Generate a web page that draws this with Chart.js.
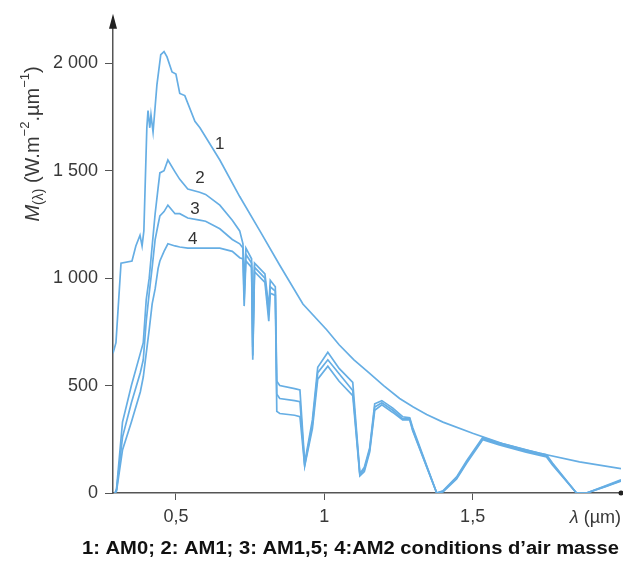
<!DOCTYPE html>
<html>
<head>
<meta charset="utf-8">
<script src="https://cdn.jsdelivr.net/npm/chart.js@4/dist/chart.umd.min.js"></script>
<style>
  body { margin: 0; background: #fff; }
  #wrap { width: 623px; height: 565px; position: relative; }
</style>
</head>
<body>
<div id="wrap"><canvas id="spectre"></canvas></div>
<script>
// Spectre solaire AM0 (hors atmosphère)
const am0Wavelengths = [0.288, 0.298, 0.315, 0.352, 0.365, 0.379, 0.386, 0.392, 0.402, 0.406,
    0.412, 0.416, 0.423, 0.436, 0.449, 0.46, 0.47, 0.487, 0.5, 0.513,
    0.53, 0.564, 0.581, 0.648, 0.715, 0.783, 0.85, 0.928, 1.008, 1.05,
    1.1, 1.15, 1.2, 1.254, 1.3, 1.345, 1.4, 1.5, 1.6, 1.726, 1.86, 2.0];
const am0Values = [650, 700, 1070, 1080, 1150, 1200, 1150, 1220, 1700, 1780,
    1700, 1760, 1680, 1900, 2040, 2055, 2030, 1960, 1950, 1860,
    1850, 1730, 1700, 1550, 1380, 1220, 1060, 880, 760, 690,
    620, 560, 500, 440, 400, 365, 330, 278, 230, 185, 145, 113];

// Spectres au sol (AM1, AM1,5, AM2) sur une grille commune
const groundWavelengths = [0.295, 0.30, 0.32, 0.35, 0.38, 0.39, 0.40, 0.41, 0.42, 0.43,
    0.44, 0.446, 0.46, 0.473, 0.497, 0.513, 0.54, 0.58, 0.60, 0.648,
    0.69, 0.715, 0.726, 0.73, 0.736, 0.755, 0.759, 0.765, 0.80, 0.813,
    0.818, 0.835, 0.84, 0.85, 0.90, 0.918, 0.934, 0.96, 0.978, 1.012,
    1.05, 1.096, 1.12, 1.135, 1.153, 1.17, 1.194, 1.231, 1.264, 1.288,
    1.298, 1.379, 1.40, 1.446, 1.48, 1.534, 1.59, 1.68, 1.749, 1.769,
    1.85, 1.884, 1.95, 2.0];
const am1Values = [0, 20, 330, 500, 650, 700, 900, 1000, 1150, 1300,
    1420, 1490, 1500, 1550, 1495, 1460, 1415, 1400, 1390, 1340,
    1270, 1220, 1160, 950, 1140, 1090, 680, 1070, 1020, 860,
    990, 960, 520, 500, 486, 480, 140, 340, 585, 655,
    580, 515, 90, 120, 210, 415, 430, 395, 355, 350,
    305, 0, 10, 75, 150, 258, 233, 200, 178, 140,
    0, 0, 35, 62];
const am15Values = [0, 15, 260, 420, 560, 620, 800, 930, 1050, 1180,
    1250, 1290, 1310, 1340, 1300, 1300, 1280, 1270, 1265, 1230,
    1180, 1160, 1140, 900, 1110, 1070, 640, 1050, 1000, 830,
    960, 940, 460, 440, 430, 425, 130, 320, 560, 620,
    555, 477, 85, 110, 200, 400, 420, 385, 345, 345,
    295, 0, 8, 70, 145, 252, 228, 195, 172, 135,
    0, 0, 32, 58];
const am2Values = [0, 10, 200, 330, 470, 540, 650, 760, 880, 950,
    1046, 1080, 1125, 1160, 1150, 1145, 1140, 1140, 1140, 1140,
    1125, 1095, 1090, 870, 1080, 1050, 620, 1030, 980, 800,
    930, 920, 380, 370, 362, 355, 125, 300, 530, 590,
    520, 453, 80, 100, 190, 385, 410, 375, 340, 340,
    290, 0, 5, 65, 140, 248, 224, 190, 168, 130,
    0, 0, 30, 55];

// Graduations
const yTicks = [0, 500, 1000, 1500, 2000];
const xTicks = [0.5, 1, 1.5];

// Numéros des courbes (en coordonnées des données)
const curveNames = ['1', '2', '3', '4'];
const curveNameX = [0.648, 0.581, 0.564, 0.557];
const curveNameY = [1625, 1463, 1319, 1181];

const caption = '1: AM0; 2: AM1; 3: AM1,5; 4:AM2 conditions d\u2019air masse';

const LINE = 'rgb(102, 174, 228)';
const INK = '#383838';
const FONT = '"Liberation Sans", Arial, sans-serif';

function toPoints(xs, ys) {
    return xs.map((x, i) => ({ x: x, y: ys[i] }));
}

function formatThousands(v) {
    return String(v).replace(/\B(?=(\d{3})+(?!\d))/g, ' ');
}

const decorPlugin = {
    id: 'decor',
    afterDraw(chart) {
        const { ctx, chartArea: a, scales } = chart;
        const xs = scales.x, ys = scales.y;
        ctx.save();

        // Flèche de l'axe vertical
        ctx.fillStyle = '#222';
        ctx.beginPath();
        ctx.moveTo(a.left, a.top - 4);
        ctx.lineTo(a.left - 4, a.top + 11);
        ctx.lineTo(a.left + 4, a.top + 11);
        ctx.closePath();
        ctx.fill();

        // Bout de l'axe horizontal
        ctx.beginPath();
        ctx.arc(a.right, a.bottom, 2.5, 0, Math.PI * 2);
        ctx.fill();

        // Numéros des courbes
        ctx.fillStyle = '#333';
        ctx.font = '17px ' + FONT;
        ctx.textAlign = 'center';
        ctx.textBaseline = 'middle';
        curveNames.forEach((n, i) => {
            ctx.fillText(n, xs.getPixelForValue(curveNameX[i]), ys.getPixelForValue(curveNameY[i]));
        });

        // Titre de l'axe x : λ (µm)
        ctx.fillStyle = INK;
        ctx.textAlign = 'left';
        const unit = ' (\u00b5m)';
        ctx.font = '18px ' + FONT;
        const wUnit = ctx.measureText(unit).width;
        ctx.font = 'italic 18px ' + FONT;
        const wLam = ctx.measureText('\u03bb').width;
        const xStart = a.right - wUnit - wLam;
        ctx.fillText('\u03bb', xStart, a.bottom + 25);
        ctx.font = '18px ' + FONT;
        ctx.fillText(unit, xStart + wLam, a.bottom + 25);

        // Titre de l'axe y : M(λ) (W.m-2.µm-1)
        const parts = [
            { t: 'M', f: 'italic 20px ' + FONT, dy: 0 },
            { t: '(\u03bb)', f: '14px ' + FONT, dy: 6 },
            { t: ' (W.m', f: '20px ' + FONT, dy: 0 },
            { t: '\u22122', f: '13px ' + FONT, dy: -8 },
            { t: '.\u00b5m', f: '20px ' + FONT, dy: 0 },
            { t: '\u22121', f: '13px ' + FONT, dy: -8 },
            { t: ')', f: '20px ' + FONT, dy: 0 }
        ];
        let total = 0;
        parts.forEach(p => { ctx.font = p.f; p.w = ctx.measureText(p.t).width; total += p.w; });
        ctx.translate(33, 144);
        ctx.rotate(-Math.PI / 2);
        let cx = -total / 2;
        parts.forEach(p => {
            ctx.font = p.f;
            ctx.fillText(p.t, cx, p.dy);
            cx += p.w;
        });
        ctx.setTransform(1, 0, 0, 1, 0, 0);

        // Légende sous le graphique
        ctx.fillStyle = '#111';
        ctx.font = 'bold 18px ' + FONT;
        const wCap = ctx.measureText(caption).width;
        const target = 537;
        ctx.translate(350.5, 549);
        ctx.scale(target / wCap, 1);
        ctx.textAlign = 'center';
        ctx.fillText(caption, 0, 0);

        ctx.restore();
    }
};

const lineStyle = {
    borderColor: LINE,
    backgroundColor: LINE,
    borderWidth: 1.7,
    pointRadius: 0,
    tension: 0,
    fill: false
};

new Chart(document.getElementById('spectre'), {
    type: 'line',
    data: {
        datasets: [
            Object.assign({ label: 'AM0', data: toPoints(am0Wavelengths, am0Values) }, lineStyle),
            Object.assign({ label: 'AM1', data: toPoints(groundWavelengths, am1Values) }, lineStyle),
            Object.assign({ label: 'AM1,5', data: toPoints(groundWavelengths, am15Values) }, lineStyle),
            Object.assign({ label: 'AM2', data: toPoints(groundWavelengths, am2Values) }, lineStyle)
        ]
    },
    options: {
        responsive: true,
        maintainAspectRatio: false,
        animation: false,
        layout: { padding: { top: 9, right: 2, left: 0, bottom: 0 } },
        plugins: {
            legend: { display: false },
            tooltip: { enabled: false }
        },
        scales: {
            x: {
                type: 'linear',
                min: 0.288,
                max: 2.0,
                afterFit: s => { s.height = 72; },
                afterBuildTicks: s => { s.ticks = xTicks.map(v => ({ value: v })); },
                grid: { drawOnChartArea: false, drawTicks: true, tickLength: 7, color: '#555' },
                border: { color: '#555', width: 1.5 },
                ticks: {
                    color: INK,
                    font: { family: FONT, size: 18 },
                    padding: 6,
                    maxRotation: 0,
                    callback: v => String(v).replace('.', ',')
                }
            },
            y: {
                min: 0,
                max: 2212,
                afterFit: s => { s.width = 113; },
                afterBuildTicks: s => { s.ticks = yTicks.map(v => ({ value: v })); },
                grid: { drawOnChartArea: false, drawTicks: true, tickLength: 8, color: '#555' },
                border: { color: '#555', width: 1.5 },
                ticks: {
                    color: INK,
                    font: { family: FONT, size: 18 },
                    padding: 7,
                    callback: v => formatThousands(v)
                }
            }
        }
    },
    plugins: [decorPlugin]
});
</script>
</body>
</html>
